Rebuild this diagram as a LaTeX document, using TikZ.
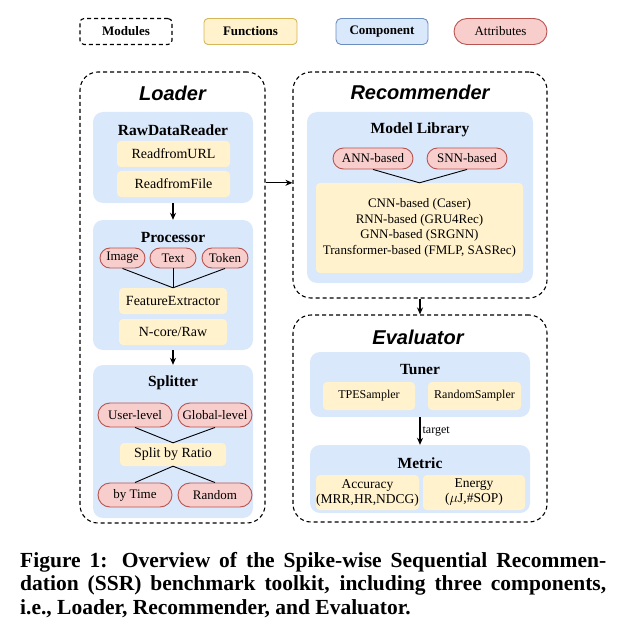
\documentclass[tikz,border=0pt]{standalone}
\usepackage{fontspec}
\setmainfont{Liberation Serif}
\newfontfamily\headfont{Liberation Sans}
\usetikzlibrary{arrows.meta,shapes.misc}
\definecolor{compblue}{HTML}{DAE8FC}
\definecolor{compline}{HTML}{6C8EBF}
\definecolor{funcyellow}{HTML}{FFF2CC}
\definecolor{funcline}{HTML}{D6B656}
\definecolor{attrpink}{HTML}{F8CECC}
\definecolor{attrline}{HTML}{B85450}
\begin{document}
\begin{tikzpicture}[x=1pt,y=-1pt,
	module/.style={draw, dash pattern=on 4pt off 3pt, line width=1.1pt, rounded corners=18pt, inner sep=0pt},
	comp/.style={fill=compblue, rounded corners=10pt, inner sep=0pt},
	func/.style={fill=funcyellow, rounded corners=4pt, inner sep=0pt, align=center, font=\fontsize{14}{16}\selectfont},
	attr/.style={rounded rectangle, draw=attrline, fill=attrpink, line width=0.9pt, inner sep=0pt, font=\fontsize{13}{15}\selectfont},
	sz/.style 2 args={minimum width=#1, minimum height=#2},
	head/.style={font=\headfont\bfseries\itshape\fontsize{20}{24}\selectfont},
	ctitle/.style={font=\bfseries\fontsize{15.5}{18}\selectfont},
	legend/.style={font=\bfseries\fontsize{13}{15}\selectfont},
	capline/.style={anchor=base west, inner sep=0pt, font=\bfseries\fontsize{21.5}{24}\selectfont},
	arr/.style={-{Stealth[length=7pt,width=6pt]}, line width=1.2pt},
	link/.style={line width=0.9pt}]
	\useasboundingbox (0,0) rectangle (627,639);

	% legend
	\node[module, rounded corners=4pt, sz={92pt}{26pt}, legend] (legMod) at (126,31.5) {Modules};
	\node[func, draw=funcline, line width=0.9pt, sz={93pt}{26pt}, legend] (legFun) at (250.5,31.5) {Functions};
	\node[comp, draw=compline, line width=0.9pt, rounded corners=5pt, sz={92pt}{26pt}, legend] (legComp) at (382,31.5) {Component};
	\node[attr, sz={93pt}{26pt}] (legAttr) at (500.5,31.5) {Attributes};

	% modules
	\node[module, sz={185pt}{451pt}] (loader) at (172.5,297.5) {};
	\node[head] (loaderT) at (172.5,93) {Loader};
	\node[module, sz={254pt}{226pt}] (recom) at (420,185) {};
	\node[head] (recomT) at (420,92) {Recommender};
	\node[module, sz={254pt}{207pt}] (evalr) at (420,418.5) {};
	\node[head] (evalT) at (418,337) {Evaluator};

	% loader
	\node[comp, sz={160pt}{91pt}] (reader) at (173,157.5) {};
	\node[ctitle] (readerT) at (173,130) {RawDataReader};
	\node[func, sz={113pt}{26pt}] (url) at (173.5,154) {ReadfromURL};
	\node[func, sz={113pt}{26pt}] (file) at (173.5,184) {ReadfromFile};

	\node[comp, sz={160pt}{130pt}] (proc) at (173,285) {};
	\node[ctitle] (procT) at (173,238) {Processor};
	\node[attr, sz={45pt}{20pt}] (image) at (122.5,258) {Image};
	\node[attr, sz={46pt}{20pt}] (text) at (173,258) {Text};
	\node[attr, sz={46pt}{20pt}] (token) at (225,258) {Token};
	\node[func, sz={108pt}{26pt}] (feat) at (173,301) {FeatureExtractor};
	\node[func, sz={108pt}{26pt}] (ncore) at (173,332) {N-core/Raw};
	\foreach \a in {image,text,token}
		\draw[link] (\a.south) -- (feat.north);

	\node[comp, sz={160pt}{153pt}] (split) at (173,441.5) {};
	\node[ctitle] (splitT) at (173,383) {Splitter};
	\node[attr, sz={74pt}{24pt}] (user) at (135,415) {User-level};
	\node[attr, sz={74pt}{24pt}] (global) at (215,415) {Global-level};
	\node[func, sz={106pt}{23pt}] (ratio) at (173,454.5) {Split by Ratio};
	\node[attr, sz={74pt}{24pt}] (bytime) at (135,495) {by Time};
	\node[attr, sz={74pt}{24pt}] (random) at (215,495) {Random};
	\draw[link] (user.south) -- (ratio.north) -- (global.south);
	\draw[link] (bytime.north) -- (ratio.south) -- (random.north);

	\draw[arr] (reader.south) -- (proc.north);
	\draw[arr] (proc.south) -- (split.north);

	% recommender
	\node[comp, sz={226pt}{171pt}] (mlib) at (420,197.5) {};
	\node[ctitle] (mlibT) at (420,130) {Model Library};
	\node[attr, sz={80pt}{21pt}] (ann) at (373,158.5) {ANN-based};
	\node[attr, sz={80pt}{21pt}] (snn) at (467,158.5) {SNN-based};
	\node[func, sz={207pt}{90pt}, font=\fontsize{13}{15.5}\selectfont] (models) at (419.5,228)
		{CNN-based (Caser)\\RNN-based (GRU4Rec)\\GNN-based (SRGNN)\\Transformer-based (FMLP, SASRec)};
	\draw[link] (ann.south) -- (models.north) -- (snn.south);

	% evaluator
	\node[comp, sz={220pt}{65pt}] (tuner) at (420,384.5) {};
	\node[ctitle] (tunerT) at (420,370) {Tuner};
	\node[func, sz={92pt}{28pt}, font=\fontsize{12}{14}\selectfont] (tpe) at (369,396) {TPESampler};
	\node[func, sz={93pt}{28pt}, font=\fontsize{12}{14}\selectfont] (rand) at (474.5,396) {RandomSampler};
	\node[comp, sz={220pt}{68pt}] (metric) at (420,479) {};
	\node[ctitle] (metricT) at (420,463) {Metric};
	\node[func, sz={103pt}{35pt}, font=\fontsize{13.5}{15}\selectfont] (acc) at (367.5,492.5) {Accuracy\\(MRR,HR,NDCG)};
	\node[func, sz={102pt}{35pt}, font=\fontsize{13.5}{15}\selectfont] (energy) at (474,492.5) {Energy\\($\mu$J,\#SOP)};
	\draw[arr] (tuner.south) -- node[right, inner sep=2pt, font=\fontsize{12}{14}\selectfont] (targetL) {target} (metric.north);

	% links between modules
	\draw[arr] (loader.east |- models.north) -- (recom.west |- models.north);
	\draw[arr] (recom.south) -- (evalr.north);

	% caption
	\node[capline] (cap1) at (20,567)
		{\makebox[586pt][s]{Figure 1: Overview of the Spike-wise Sequential Recommen-}};
	\node[capline] (cap2) at (20,590.5)
		{\makebox[586pt][s]{dation (SSR) benchmark toolkit, including three components,}};
	\node[capline] (cap3) at (20,614)
		{i.e., Loader, Recommender, and Evaluator.};
\end{tikzpicture}
\end{document}
